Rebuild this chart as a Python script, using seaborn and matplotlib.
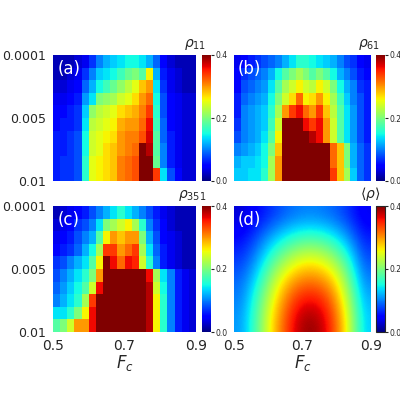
import numpy as np
import matplotlib
matplotlib.use("Agg")
import matplotlib.pyplot as plt
import seaborn as sns

x_ticklabels = ["0.5", "0.7", "0.9"]
y_ticklabels = ["0.0001", "0.005", "0.01"]
cbar_ticks = [0.0, 0.2, 0.4]

rho_11 = [
 [0.02,0.02,0.02,0.03,0.04,0.07,0.10,0.12,0.13,0.14,0.15,0.15,0.14,0.12,0.09,0.05,0.03,0.02,0.02,0.02],
 [0.02,0.02,0.03,0.04,0.07,0.10,0.13,0.14,0.15,0.17,0.19,0.20,0.18,0.26,0.12,0.06,0.04,0.03,0.02,0.02],
 [0.03,0.03,0.04,0.05,0.09,0.12,0.15,0.17,0.19,0.21,0.23,0.25,0.28,0.30,0.14,0.07,0.04,0.03,0.02,0.02],
 [0.04,0.04,0.05,0.06,0.11,0.14,0.20,0.21,0.22,0.24,0.25,0.27,0.30,0.32,0.15,0.08,0.05,0.04,0.03,0.03],
 [0.05,0.05,0.06,0.07,0.13,0.21,0.23,0.24,0.25,0.27,0.28,0.29,0.31,0.34,0.16,0.08,0.05,0.04,0.03,0.03],
 [0.05,0.06,0.06,0.07,0.14,0.23,0.24,0.25,0.26,0.29,0.30,0.30,0.32,0.36,0.17,0.09,0.05,0.04,0.03,0.03],
 [0.06,0.06,0.07,0.08,0.15,0.24,0.25,0.26,0.27,0.30,0.31,0.31,0.33,0.37,0.18,0.09,0.06,0.04,0.03,0.03],
 [0.06,0.06,0.07,0.08,0.15,0.24,0.25,0.27,0.28,0.30,0.31,0.32,0.40,0.38,0.18,0.10,0.06,0.04,0.03,0.03],
 [0.06,0.07,0.07,0.08,0.16,0.25,0.26,0.27,0.28,0.31,0.32,0.33,0.40,0.40,0.19,0.10,0.06,0.04,0.03,0.03],
 [0.06,0.07,0.07,0.08,0.16,0.25,0.26,0.27,0.28,0.31,0.32,0.33,0.40,0.40,0.34,0.14,0.08,0.05,0.03,0.03],
]

rho_61 = [
 [0.04,0.05,0.06,0.07,0.08,0.09,0.10,0.12,0.14,0.16,0.16,0.15,0.14,0.13,0.12,0.10,0.08,0.07,0.05,0.04],
 [0.05,0.07,0.08,0.09,0.10,0.12,0.15,0.18,0.20,0.22,0.20,0.18,0.20,0.18,0.15,0.12,0.10,0.08,0.06,0.05],
 [0.05,0.08,0.09,0.10,0.11,0.14,0.18,0.22,0.24,0.26,0.24,0.23,0.26,0.24,0.20,0.15,0.12,0.10,0.07,0.06],
 [0.06,0.09,0.10,0.11,0.12,0.15,0.20,0.24,0.27,0.32,0.26,0.27,0.30,0.26,0.22,0.17,0.13,0.10,0.08,0.06],
 [0.06,0.10,0.11,0.12,0.13,0.16,0.22,0.30,0.34,0.36,0.32,0.30,0.34,0.28,0.23,0.18,0.14,0.11,0.08,0.06],
 [0.07,0.10,0.11,0.12,0.13,0.17,0.24,0.40,0.40,0.40,0.36,0.34,0.36,0.30,0.24,0.18,0.14,0.11,0.08,0.06],
 [0.08,0.10,0.11,0.12,0.14,0.18,0.26,0.40,0.40,0.40,0.40,0.38,0.36,0.30,0.24,0.18,0.14,0.11,0.08,0.06],
 [0.10,0.11,0.12,0.13,0.15,0.20,0.28,0.40,0.40,0.40,0.40,0.40,0.40,0.40,0.32,0.28,0.20,0.12,0.09,0.07],
 [0.12,0.13,0.13,0.14,0.15,0.22,0.30,0.40,0.40,0.40,0.40,0.40,0.40,0.40,0.32,0.28,0.20,0.12,0.09,0.07],
 [0.13,0.13,0.14,0.14,0.16,0.22,0.30,0.40,0.40,0.40,0.40,0.40,0.40,0.40,0.34,0.28,0.22,0.13,0.09,0.07],
]

rho_351 = [
 [0.02,0.03,0.04,0.05,0.06,0.08,0.10,0.12,0.14,0.16,0.14,0.12,0.10,0.08,0.06,0.04,0.03,0.02,0.02,0.02],
 [0.03,0.04,0.05,0.07,0.08,0.10,0.14,0.20,0.22,0.24,0.26,0.22,0.16,0.10,0.07,0.05,0.03,0.02,0.02,0.02],
 [0.04,0.05,0.06,0.08,0.10,0.12,0.18,0.26,0.30,0.28,0.30,0.30,0.20,0.12,0.08,0.05,0.04,0.03,0.02,0.02],
 [0.05,0.06,0.07,0.09,0.12,0.15,0.22,0.34,0.34,0.30,0.32,0.34,0.22,0.14,0.09,0.06,0.04,0.03,0.02,0.02],
 [0.07,0.08,0.10,0.12,0.14,0.18,0.26,0.40,0.36,0.32,0.36,0.35,0.24,0.16,0.10,0.06,0.04,0.03,0.02,0.02],
 [0.08,0.10,0.12,0.14,0.16,0.20,0.30,0.40,0.40,0.40,0.40,0.40,0.40,0.36,0.22,0.14,0.10,0.06,0.04,0.03],
 [0.09,0.11,0.13,0.15,0.18,0.24,0.36,0.40,0.40,0.40,0.40,0.40,0.40,0.38,0.24,0.15,0.10,0.06,0.04,0.03],
 [0.10,0.12,0.14,0.16,0.22,0.34,0.40,0.40,0.40,0.40,0.40,0.40,0.40,0.38,0.26,0.16,0.10,0.06,0.04,0.03],
 [0.14,0.14,0.16,0.20,0.26,0.36,0.40,0.40,0.40,0.40,0.40,0.40,0.40,0.38,0.26,0.16,0.10,0.06,0.04,0.03],
 [0.18,0.20,0.24,0.30,0.30,0.36,0.40,0.40,0.40,0.40,0.40,0.40,0.40,0.38,0.26,0.16,0.10,0.06,0.04,0.03],
]

rho_mean = [
 [0.03,0.05,0.07,0.09,0.10,0.10,0.09,0.07,0.04],
 [0.05,0.08,0.12,0.15,0.17,0.17,0.15,0.11,0.06],
 [0.07,0.11,0.17,0.22,0.25,0.25,0.22,0.16,0.08],
 [0.09,0.14,0.22,0.28,0.31,0.31,0.28,0.20,0.10],
 [0.10,0.17,0.25,0.32,0.36,0.36,0.32,0.23,0.12],
 [0.11,0.18,0.27,0.34,0.39,0.39,0.34,0.25,0.13],
]

panel_labels = ["(a)", "(b)", "(c)", "(d)"]
cbar_titles = [r"$\rho_{11}$", r"$\rho_{61}$", r"$\rho_{351}$", r"$\langle\rho\rangle$"]

sns.set_style("white")
fig = plt.figure(figsize=(4, 4), dpi=100)

lefts = [0.1325, 0.585]
bottoms = [0.5475, 0.17]
widths = [0.3575, 0.3425]
cb_lefts = [0.505, 0.94]
datas = [rho_11, rho_61, rho_351, rho_mean]

for i in range(4):
    r, c = divmod(i, 2)
    ax = fig.add_axes([lefts[c], bottoms[r], widths[c], 0.315])
    cax = fig.add_axes([cb_lefts[c], bottoms[r], 0.0225, 0.315])
    arr = np.array(datas[i])
    if i < 3:
        sns.heatmap(arr, ax=ax, cmap="jet", vmin=0, vmax=0.4, cbar_ax=cax,
                    cbar_kws={"ticks": cbar_ticks}, xticklabels=False, yticklabels=False)
    else:
        im = ax.imshow(arr, cmap="jet", vmin=0, vmax=0.4, aspect="auto",
                       interpolation="bicubic", extent=[0, 20, 10, 0])
        fig.colorbar(im, cax=cax, ticks=cbar_ticks)
    ax.set_xlim(0, 20)
    ax.set_ylim(10, 0)
    for s in ax.spines.values():
        s.set_visible(False)
    cax.tick_params(labelsize=5.5, length=2, pad=1)
    cax.set_yticklabels(["0.0", "0.2", "0.4"])
    fig.text(cb_lefts[c] + 0.011, bottoms[r] + 0.322, cbar_titles[i],
             ha="right", va="bottom", fontsize=10)
    ax.text(0.6, 0.4, panel_labels[i], color="white", fontsize=12, va="top", ha="left")
    if c == 0:
        ax.set_yticks([0, 5, 10])
        ax.set_yticklabels(y_ticklabels, fontsize=9, rotation=0)
        ax.set_ylabel(r"$S_c$", fontsize=12, labelpad=1)
    else:
        ax.set_yticks([])
    if r == 1:
        ax.set_xticks([0, 10, 20])
        ax.set_xticklabels(x_ticklabels, fontsize=10, rotation=0)
        ax.set_xlabel(r"$F_c$", fontsize=12, labelpad=0)
    else:
        ax.set_xticks([])
    ax.tick_params(length=3, pad=2)

fig.savefig("out.png", dpi=100)
